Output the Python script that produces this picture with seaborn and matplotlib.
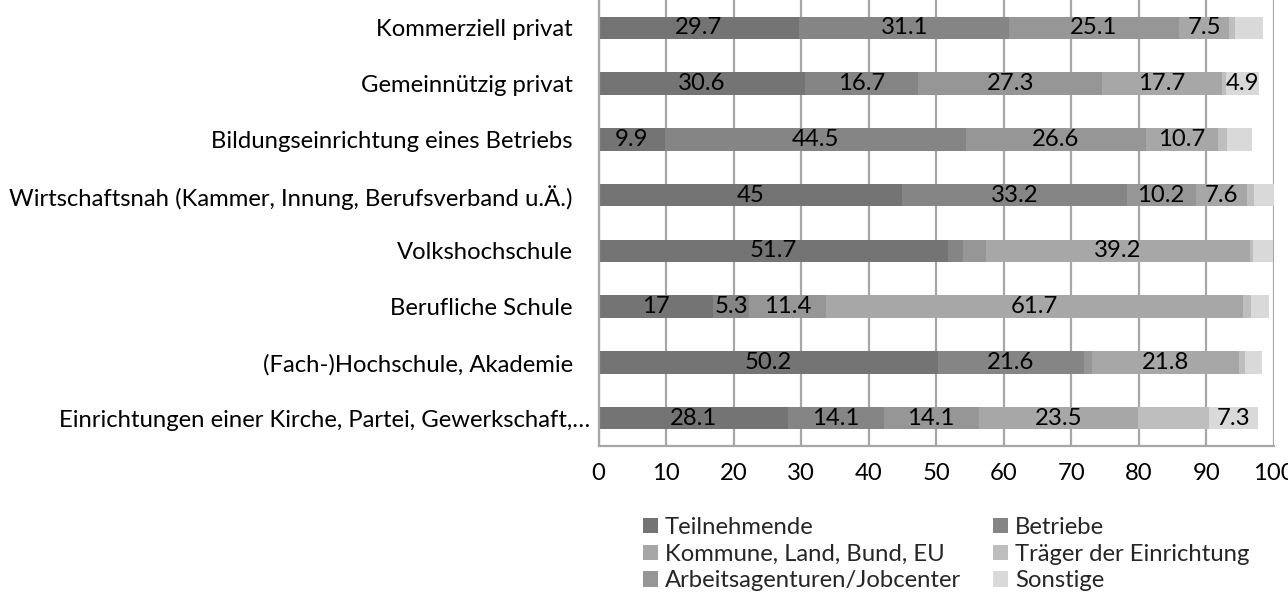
import matplotlib
matplotlib.use("Agg")
import matplotlib.pyplot as plt
from matplotlib.patches import Patch
from matplotlib.transforms import ScaledTranslation
import numpy as np
import pandas as pd
import seaborn as sns

categories = [
    "Kommerziell privat",
    "Gemeinnützig privat",
    "Bildungseinrichtung eines Betriebs",
    "Wirtschaftsnah (Kammer, Innung, Berufsverband u.Ä.)",
    "Volkshochschule",
    "Berufliche Schule",
    "(Fach-)Hochschule, Akademie",
    "Einrichtungen einer Kirche, Partei, Gewerkschaft,…",
]

series_names = [
    "Teilnehmende",
    "Betriebe",
    "Arbeitsagenturen/Jobcenter",
    "Kommune, Land, Bund, EU",
    "Träger der Einrichtung",
    "Sonstige",
]
teilnehmende = [29.7, 30.6, 9.9, 45, 51.7, 17, 50.2, 28.1]
betriebe = [31.1, 16.7, 44.5, 33.2, 2.3, 5.3, 21.6, 14.1]
arbeitsagenturen = [25.1, 27.3, 26.6, 10.2, 3.3, 11.4, 1.2, 14.1]
kommune = [7.5, 17.7, 10.7, 7.6, 39.2, 61.7, 21.8, 23.5]
traeger = [0.9, 0.6, 1.4, 1.0, 0.4, 1.2, 0.9, 10.6]
sonstige = [4.0, 4.9, 3.6, 3.0, 3.0, 2.7, 2.5, 7.3]
series_values = [teilnehmende, betriebe, arbeitsagenturen, kommune, traeger, sonstige]
series_labelled = [True, True, True, True, False, True]

x_ticks = [0, 10, 20, 30, 40, 50, 60, 70, 80, 90, 100]

colors = ["#747474", "#858585", "#969696", "#a7a7a7", "#bebebe", "#d9d9d9"]

legend_order = [
    "Teilnehmende",
    "Kommune, Land, Bund, EU",
    "Arbeitsagenturen/Jobcenter",
    "Betriebe",
    "Träger der Einrichtung",
    "Sonstige",
]

sns.set_theme(style="white")
plt.rcParams["font.family"] = ["Lato", "DejaVu Sans"]
FS = 17.2

fig = plt.figure(figsize=(12.88, 5.96), dpi=100)
ax = fig.add_axes([598.5 / 1288, 1 - 446 / 596, (1274 - 598.5) / 1288, 446 / 596])

vals = np.array(series_values)
cum = np.cumsum(vals, axis=0)

for i in range(len(series_names) - 1, -1, -1):
    df = pd.DataFrame({"cat": categories, "val": cum[i]})
    sns.barplot(data=df, x="val", y="cat", order=categories, orient="h",
                color=colors[i], width=0.4, saturation=1, ax=ax,
                edgecolor="none", linewidth=0, zorder=3)

for i, name in enumerate(series_names):
    if not series_labelled[i]:
        continue
    for j, v in enumerate(series_values[i]):
        if v >= 4.5:
            center = cum[i][j] - v / 2
            ax.text(center, j, f"{v:g}", ha="center", va="center",
                    fontsize=FS, color="black", zorder=5)

ax.set_xlim(0, 100)
ax.set_ylim(len(categories) - 0.5, -0.5)
ax.set_xticks(x_ticks)
ax.set_xticklabels([str(t) for t in x_ticks])
ax.set_xlabel("")
ax.set_ylabel("")
ax.grid(axis="x", color="#a6a6a6", linewidth=1.6, zorder=0)
ax.grid(axis="y", visible=False)
ax.set_axisbelow(True)
for s in ["top", "right"]:
    ax.spines[s].set_visible(False)
for s in ["left", "bottom"]:
    ax.spines[s].set_color("#a6a6a6")
    ax.spines[s].set_linewidth(1.6)
    ax.spines[s].set_zorder(4)
ax.tick_params(axis="x", length=0, pad=12, labelsize=FS, labelcolor="black")
ax.tick_params(axis="y", length=0, pad=18.5, labelsize=FS, labelcolor="black")

# Excel places the truncated last label slightly further right
last = ax.get_yticklabels()[-1]
last.set_transform(last.get_transform() + ScaledTranslation(17 / 100, 0, fig.dpi_scale_trans))

handles = {n: Patch(facecolor=c, edgecolor="none") for n, c in zip(series_names, colors)}
fig.legend([handles[n] for n in legend_order], legend_order,
           loc="upper left", bbox_to_anchor=(643 / 1288, 1 - 517 / 596),
           ncol=2, frameon=False, fontsize=FS, borderpad=0, borderaxespad=0,
           handlelength=0.62, handleheight=0.62, handletextpad=0.3,
           labelspacing=0.24, columnspacing=1.35)

fig.savefig("out.png", dpi=100, facecolor="white")
